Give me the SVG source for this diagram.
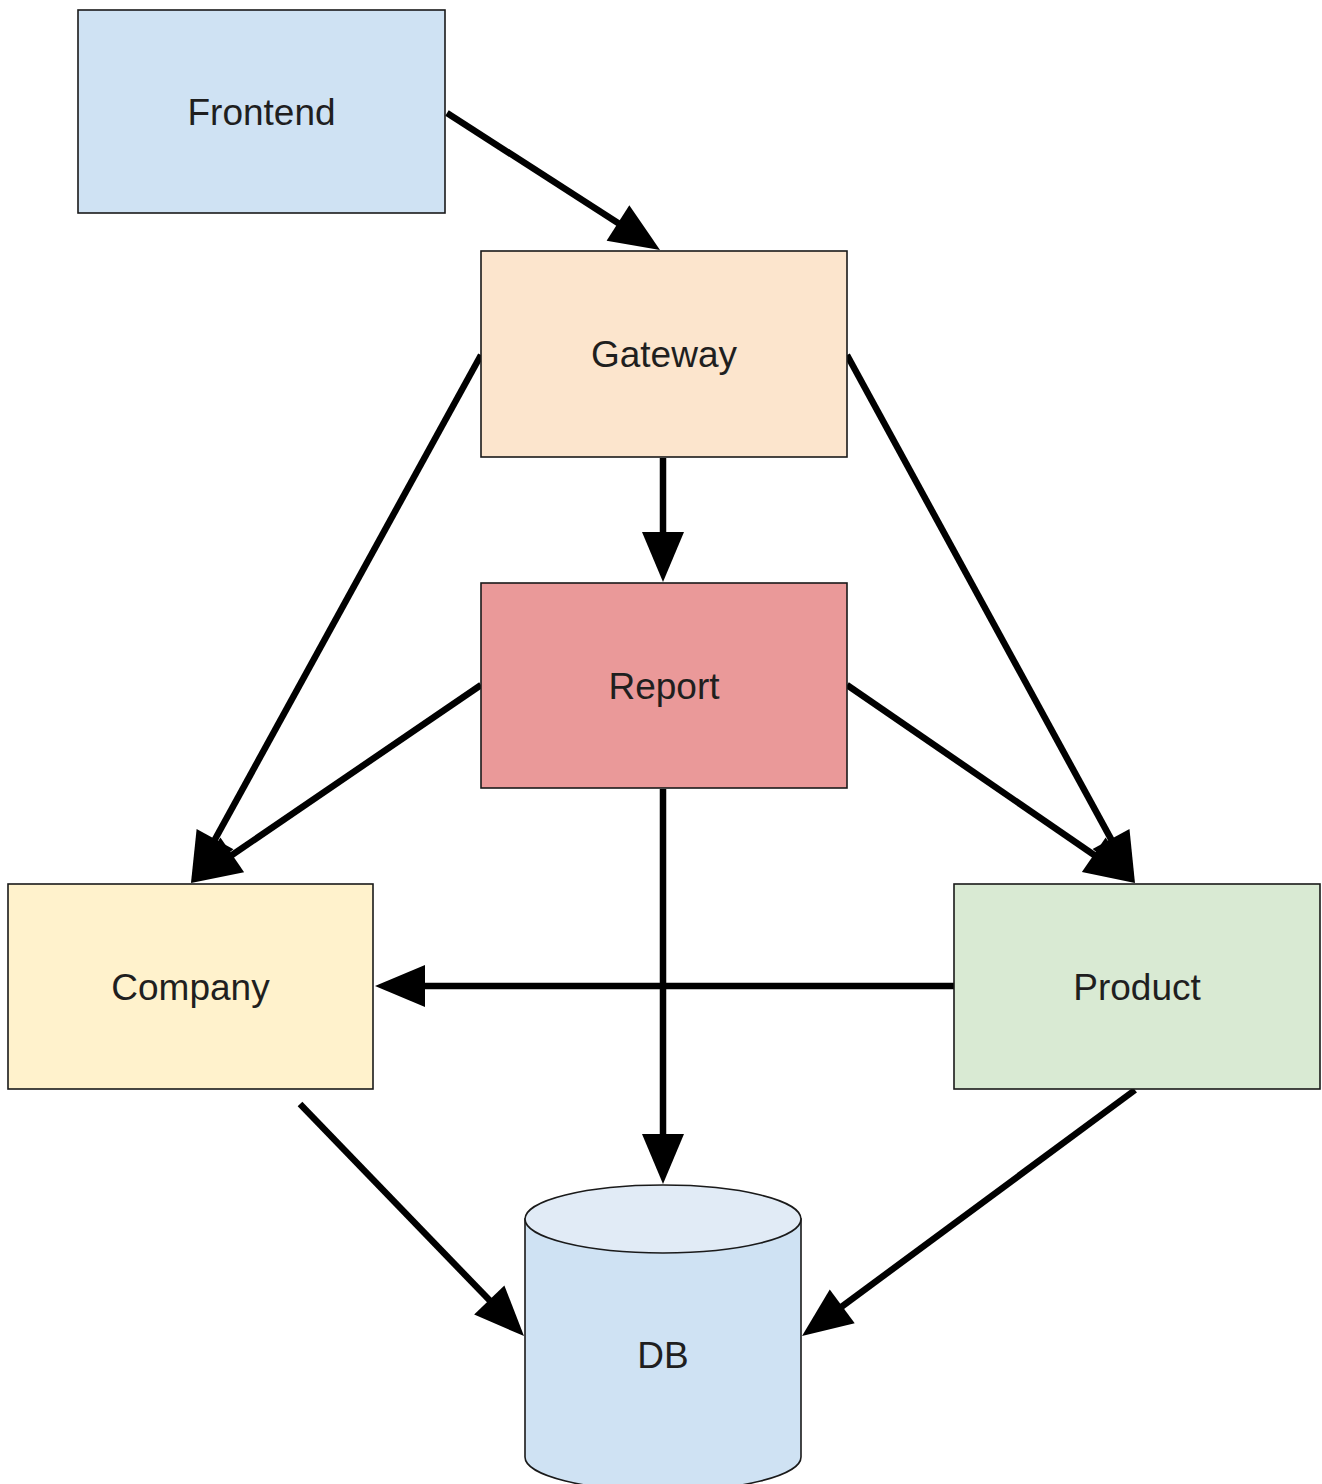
<svg xmlns="http://www.w3.org/2000/svg" width="1322" height="1484" viewBox="0 0 1322 1484">
  <style>
    .box { stroke: #1a1a1a; stroke-width: 1.6; }
    .label { font-family: "Liberation Sans", Arial, sans-serif; font-size: 37px; fill: #1f1f1f; text-anchor: middle; dominant-baseline: central; }
    .edge { stroke: #000; stroke-width: 6.5; fill: none; }
  </style>
  <defs>
    <marker id="arrow" markerUnits="userSpaceOnUse" markerWidth="52" markerHeight="44" refX="30" refY="21" orient="auto" overflow="visible">
      <path d="M0,0 L50,21 L0,42 Z" fill="#000"/>
    </marker>
  </defs>
  <rect width="1322" height="1484" fill="#fff"/>

  <!-- connectors -->
  <g id="connectors">
    <line class="edge" x1="447" y1="113" x2="643.2" y2="239.2" marker-end="url(#arrow)"/>
    <line class="edge" x1="663" y1="458" x2="663" y2="562" marker-end="url(#arrow)"/>
    <line class="edge" x1="481" y1="355" x2="200.6" y2="865.5" marker-end="url(#arrow)"/>
    <line class="edge" x1="481" y1="685" x2="207.5" y2="871.7" marker-end="url(#arrow)"/>
    <line class="edge" x1="847" y1="355" x2="1125.4" y2="865.4" marker-end="url(#arrow)"/>
    <line class="edge" x1="847" y1="685" x2="1118.5" y2="871.7" marker-end="url(#arrow)"/>
    <line class="edge" x1="954" y1="986" x2="395" y2="986" marker-end="url(#arrow)"/>
    <line class="edge" x1="663" y1="789" x2="663" y2="1164" marker-end="url(#arrow)"/>
    <line class="edge" x1="300" y1="1104" x2="510.1" y2="1321.6" marker-end="url(#arrow)"/>
    <line class="edge" x1="1135" y1="1090" x2="818.1" y2="1324.1" marker-end="url(#arrow)"/>
  </g>

  <g id="frontend">
    <rect class="box" x="78" y="10" width="367" height="203" fill="#cfe2f3"/>
    <text class="label" x="261.5" y="112">Frontend</text>
  </g>

  <g id="gateway">
    <rect class="box" x="481" y="251" width="366" height="206" fill="#fce5cd"/>
    <text class="label" x="664" y="354">Gateway</text>
  </g>

  <g id="report">
    <rect class="box" x="481" y="583" width="366" height="205" fill="#ea9999"/>
    <text class="label" x="664" y="686">Report</text>
  </g>

  <g id="company">
    <rect class="box" x="8" y="884" width="365" height="205" fill="#fff2cc"/>
    <text class="label" x="190.5" y="987">Company</text>
  </g>

  <g id="product">
    <rect class="box" x="954" y="884" width="366" height="205" fill="#d9ead3"/>
    <text class="label" x="1137" y="987">Product</text>
  </g>

  <g id="db">
    <path class="box" d="M525,1219 L525,1457 A138,34 0 0 0 801,1457 L801,1219 Z" fill="#cfe2f3"/>
    <ellipse class="box" cx="663" cy="1219" rx="138" ry="34" fill="#e1ebf6"/>
    <text class="label" x="663" y="1355">DB</text>
  </g>
</svg>
